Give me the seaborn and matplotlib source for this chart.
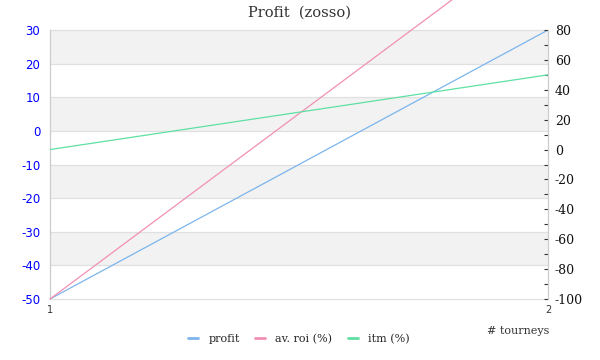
import matplotlib
matplotlib.use("Agg")
import matplotlib.pyplot as plt
import seaborn as sns
import pandas as pd
from matplotlib.ticker import MultipleLocator
from matplotlib.lines import Line2D

tourneys = [1, 2]
profit = [-50, 30]
av_roi = [-100, 148]
itm = [0, 50]
left_ticks = [-50, -40, -30, -20, -10, 0, 10, 20, 30]
right_ticks = [-100, -80, -60, -40, -20, 0, 20, 40, 60, 80]

sns.set_theme(style="white")
plt.rcParams['font.family'] = ['DejaVu Serif']

c_profit = "#7cb5ec"
c_roi = "#f28fb5"
c_itm = "#5fe0a3"

fig = plt.figure(figsize=(6, 3.6), dpi=100)
ax = fig.add_axes([50/600, 1-299/360, 498/600, 269/360])
ax2 = ax.twinx()

df = pd.DataFrame({"t": tourneys, "profit": profit, "roi": av_roi, "itm": itm})

# alternating bands
for i, lo in enumerate(range(-50, 30, 10)):
    if i % 2 == 1:
        ax.axhspan(lo, lo + 10, color="#f2f2f2", zorder=0, lw=0)
for v in left_ticks:
    ax.axhline(v, color="#e0e0e0", lw=0.9, zorder=0.5, clip_on=False)

sns.lineplot(data=df, x="t", y="profit", ax=ax, color=c_profit, lw=0.9, zorder=3)
sns.lineplot(data=df, x="t", y="roi", ax=ax2, color=c_roi, lw=0.9)
ax2.lines[-1].set_clip_on(False)
sns.lineplot(data=df, x="t", y="itm", ax=ax2, color=c_itm, lw=0.9)

ax.set_xlim(1, 2)
ax.set_ylim(-50, 30)
ax2.set_ylim(-100, 80)
ax.set_xticks([1, 2])
ax.set_xticklabels(["1", "2"], fontsize=7, color="#333333", family="DejaVu Sans")
ax.set_yticks(left_ticks)
ax.set_yticklabels([str(v) for v in left_ticks], color="#0000ff", fontsize=8.5,
                   family="DejaVu Sans")
ax.tick_params(axis="y", length=0, pad=7)
ax.tick_params(axis="x", length=0, pad=4)

ax2.yaxis.set_major_locator(MultipleLocator(20))
ax2.yaxis.set_minor_locator(MultipleLocator(10))
ax2.set_yticks(right_ticks)
ax2.set_yticklabels([str(v) for v in right_ticks], fontsize=9, color="#111111")
ax2.tick_params(axis="y", which="both", direction="in", length=3, width=0.8,
                color="#333333", pad=5)

ax.set_xlabel("")
ax.set_ylabel("")
ax2.set_ylabel("")
for a in (ax, ax2):
    for s in a.spines.values():
        s.set_visible(False)
ax2.spines["right"].set_visible(True)
ax2.spines["right"].set_color("#cccccc")
ax2.spines["right"].set_linewidth(0.9)
ax.spines["left"].set_visible(True)
ax.spines["left"].set_color("#cccccc")
ax.spines["left"].set_linewidth(0.9)
ax.patch.set_visible(False)
ax2.patch.set_visible(False)
ax.set_zorder(0)
ax2.set_zorder(1)

fig.text(300/600, 1-13/360, "Profit  (zosso)", ha="center", va="center",
         fontsize=10.5, color="#333333")
fig.text(549/600, 1-331/360, "# tourneys", ha="right", va="center",
         fontsize=8, color="#333333")

handles = [Line2D([], [], color=c_profit, lw=2),
           Line2D([], [], color=c_roi, lw=2),
           Line2D([], [], color=c_itm, lw=2)]
fig.legend(handles, ["profit", "av. roi (%)", "itm (%)"], loc="center",
           bbox_to_anchor=(299/600, 1-339/360), ncol=3, frameon=False,
           fontsize=8, handlelength=0.9, columnspacing=1.4, handletextpad=0.9)

fig.savefig("out.png", dpi=100)
